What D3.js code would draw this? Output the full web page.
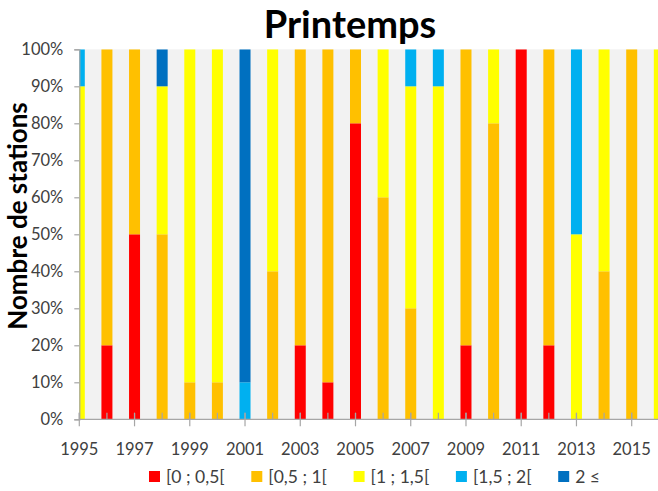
<!DOCTYPE html>
<html><head><meta charset="utf-8">
<script src="https://cdn.jsdelivr.net/npm/d3@7"></script>
<style>
body{margin:0;background:#fff;}
svg{display:block;font-family:Lato,'Open Sans',sans-serif;}
</style>
</head><body><svg id="c" width="658" height="491"></svg>
<script>
const years = [1995,1996,1997,1998,1999,2000,2001,2002,2003,2004,2005,2006,2007,2008,2009,2010,2011,2012,2013,2014,2015,2016];
const seriesNames = ["[0 ; 0,5[","[0,5 ; 1[","[1 ; 1,5[","[1,5 ; 2[","2 \u2264"];
const seriesColors = ["#FF0000","#FFC000","#FFFF00","#00B0F0","#0070C0"];
const red       = [0,20,50,0,0,0,0,0,20,10,80,0,0,0,20,0,100,20,0,0,0,0];
const orange    = [0,80,50,50,10,10,0,40,80,90,20,60,30,0,80,80,0,80,0,40,100,0];
const yellow    = [90,0,0,40,90,90,0,60,0,0,0,40,60,90,0,20,0,0,50,60,0,100];
const lightBlue = [10,0,0,0,0,0,10,0,0,0,0,0,10,10,0,0,0,0,50,0,0,0];
const darkBlue  = [0,0,0,10,0,0,90,0,0,0,0,0,0,0,0,0,0,0,0,0,0,0];
const yTicks = [0,10,20,30,40,50,60,70,80,90,100];
const xMajorTicks = [1995,1997,1999,2001,2003,2005,2007,2009,2011,2013,2015];
const chartTitle = "Printemps";
const yTitle = "Nombre de stations";

const seriesValues = [red, orange, yellow, lightBlue, darkBlue];
const rows = years.map((yr,i)=>{const r={year:yr}; seriesNames.forEach((n,k)=>r[n]=seriesValues[k][i]); return r;});

const svg = d3.select("#c");
const W = 658, H = 491;
const pLeft = 79.3, pTop = 49.3, pBottom = 419.3;
const perYear = 27.62;
const x = d3.scaleLinear().domain([1995, 2016]).range([pLeft, pLeft + 21*perYear]);
const y = d3.scaleLinear().domain([0,100]).range([pBottom, pTop]);
const barW = 11;

svg.append("defs").append("clipPath").attr("id","plotclip")
  .append("rect").attr("x", pLeft).attr("y", pTop).attr("width", 700-pLeft).attr("height", pBottom-pTop);

svg.append("rect").attr("x", pLeft).attr("y", pTop).attr("width", 700-pLeft).attr("height", pBottom-pTop).attr("fill","#F2F2F2");

const stack = d3.stack().keys(seriesNames)(rows);
const g = svg.append("g").attr("clip-path","url(#plotclip)");
g.selectAll("g.s").data(stack).join("g").attr("class","s")
  .attr("fill",(d,i)=>seriesColors[i])
  .selectAll("rect").data(d=>d.filter(p=>p[1]-p[0]>0)).join("rect")
  .attr("x", d=>x(d.data.year)-barW/2)
  .attr("width", barW)
  .attr("y", d=>y(d[1]))
  .attr("height", d=>y(d[0])-y(d[1]));

// X axis line
svg.append("line").attr("x1", pLeft).attr("x2", W).attr("y1", pBottom).attr("y2", pBottom)
  .attr("stroke","#A6A6A6").attr("stroke-width",1.2);
// minor ticks every year (inside)
svg.append("g").selectAll("line").data(years).join("line")
  .attr("x1", d=>x(d)).attr("x2", d=>x(d)).attr("y1", pBottom-6.5).attr("y2", pBottom)
  .attr("stroke","#A6A6A6").attr("stroke-width",1.2);
// major ticks (cross)
svg.append("g").selectAll("line").data(xMajorTicks).join("line")
  .attr("x1", d=>x(d)).attr("x2", d=>x(d)).attr("y1", pBottom-6.5).attr("y2", pBottom+7)
  .attr("stroke","#A6A6A6").attr("stroke-width",1.2);
svg.append("g").selectAll("text").data(xMajorTicks).join("text")
  .attr("x", d=>x(d)).attr("y", 455).attr("text-anchor","middle")
  .attr("font-size",16.5).attr("fill","#404040").text(d=>d);

// Y axis
const yAxis = d3.axisLeft(y).tickValues(yTicks).tickFormat(d=>d+"%").tickSize(5).tickPadding(11);
const ya = svg.append("g").attr("transform",`translate(${pLeft},0)`).call(yAxis);
ya.select(".domain").attr("stroke","#A6A6A6").attr("stroke-width",1.2);
ya.selectAll(".tick line").attr("stroke","#A6A6A6").attr("stroke-width",1.2);
ya.selectAll(".tick text").attr("font-size",16.5).attr("fill","#404040").attr("font-family","Lato,'Open Sans',sans-serif");

// Titles
svg.append("text").attr("x",350).attr("y",38).attr("text-anchor","middle")
  .attr("font-size",38).attr("font-weight","bold").attr("fill","#000").text(chartTitle);
svg.append("text").attr("transform","translate(27,216) rotate(-90)").attr("text-anchor","middle")
  .attr("font-size",26).attr("font-weight","bold").attr("fill","#000").text(yTitle);

// Legend
const lg = svg.append("g").selectAll("g").data(seriesNames).join("g")
  .attr("transform",(d,i)=>`translate(${149 + i*102.3},471)`);
lg.append("rect").attr("width",11).attr("height",11).attr("fill",(d,i)=>seriesColors[i]);
lg.append("text").attr("x",17).attr("y",12).attr("font-size",17.5).attr("fill","#404040").text(d=>d);
</script>
</body></html>
